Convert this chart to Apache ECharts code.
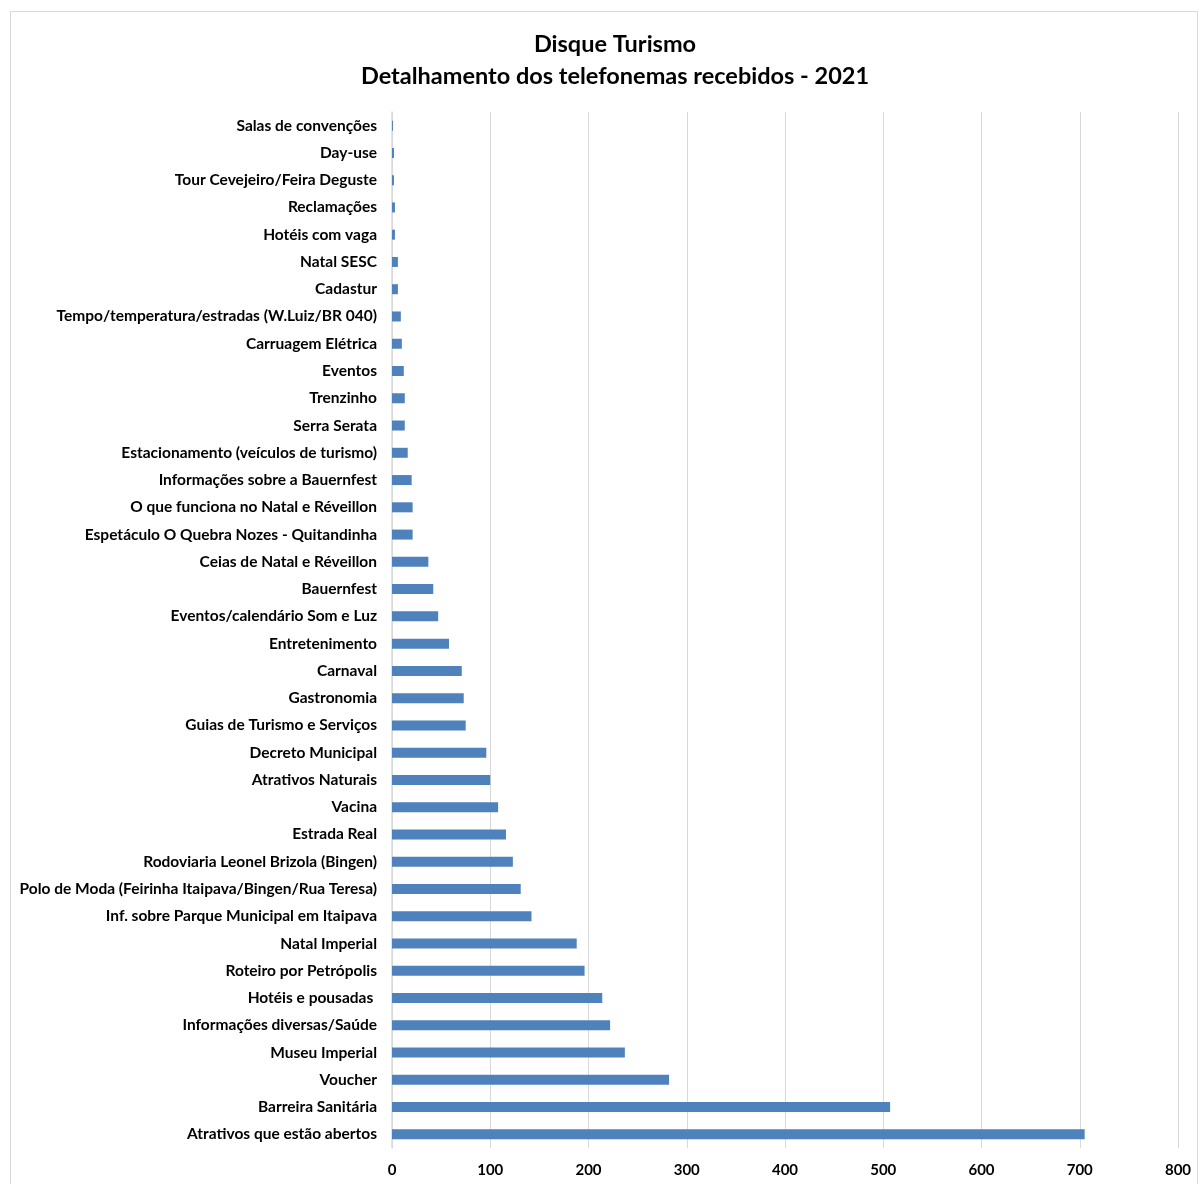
<!DOCTYPE html>
<html>
<head>
<meta charset="utf-8">
<script src="https://cdn.jsdelivr.net/npm/echarts@6/dist/echarts.min.js"></script>
<style>
html,body{margin:0;padding:0;background:#fff;}
#frame{position:absolute;left:10px;top:11px;width:1188px;height:1180px;border:1px solid #d9d9d9;box-sizing:border-box;}
#chart{position:absolute;left:0;top:0;width:1198px;height:1184px;}
</style>
</head>
<body>
<div id="frame"></div>
<div id="chart"></div>
<script>
const categories = [
  "Salas de convenções",
  "Day-use",
  "Tour Cevejeiro/Feira Deguste",
  "Reclamações",
  "Hotéis com vaga",
  "Natal SESC",
  "Cadastur",
  "Tempo/temperatura/estradas (W.Luiz/BR 040)",
  "Carruagem Elétrica",
  "Eventos",
  "Trenzinho",
  "Serra Serata",
  "Estacionamento (veículos de turismo)",
  "Informações sobre a Bauernfest",
  "O que funciona no Natal e Réveillon",
  "Espetáculo O Quebra Nozes - Quitandinha",
  "Ceias de Natal e Réveillon",
  "Bauernfest",
  "Eventos/calendário Som e Luz",
  "Entretenimento",
  "Carnaval",
  "Gastronomia",
  "Guias de Turismo e Serviços",
  "Decreto Municipal",
  "Atrativos Naturais",
  "Vacina",
  "Estrada Real",
  "Rodoviaria Leonel Brizola (Bingen)",
  "Polo de Moda (Feirinha Itaipava/Bingen/Rua Teresa)",
  "Inf. sobre Parque Municipal em Itaipava",
  "Natal Imperial",
  "Roteiro por Petrópolis",
  "Hotéis e pousadas ",
  "Informações diversas/Saúde",
  "Museu Imperial",
  "Voucher",
  "Barreira Sanitária",
  "Atrativos que estão abertos"
];
const values = [1, 2, 2, 3, 3, 6, 6, 9, 10, 12, 13, 13, 16, 20, 21, 21, 37, 42, 47, 58, 71, 73, 75, 96, 100, 108, 116, 123, 131, 142, 188, 196, 214, 222, 237, 282, 507, 705];
const xTicks = {min: 0, max: 800, interval: 100};

const chart = echarts.init(document.getElementById('chart'));
chart.setOption({
  animation: false,
  title: {
    text: "Disque Turismo\nDetalhamento dos telefonemas recebidos - 2021",
    left: 610, top: 23, textAlign: 'center',
    textStyle: {fontFamily: 'Lato', fontWeight: 'bold', fontSize: 23.5, lineHeight: 32, color: '#000'}
  },
  grid: {left: 392, right: 20, top: 112, bottom: 36, containLabel: false},
  xAxis: {
    type: 'value', min: xTicks.min, max: xTicks.max, interval: xTicks.interval,
    axisLine: {show: false}, axisTick: {show: false},
    splitLine: {lineStyle: {color: '#d9d9d9', width: 1}},
    axisLabel: {color: '#000', fontFamily: 'Lato', fontWeight: 'bold', fontSize: 15, margin: 15}
  },
  yAxis: {
    type: 'category', data: categories, inverse: true,
    axisLine: {show: true, lineStyle: {color: '#d9d9d9', width: 1.5}},
    axisTick: {show: false},
    axisLabel: {color: '#000', fontFamily: 'Lato', fontWeight: 'bold', fontSize: 15.5, margin: 15}
  },
  series: [{
    type: 'bar', data: values, barWidth: 10,
    itemStyle: {color: '#4f81bd'}
  }]
});
</script>
</body>
</html>
